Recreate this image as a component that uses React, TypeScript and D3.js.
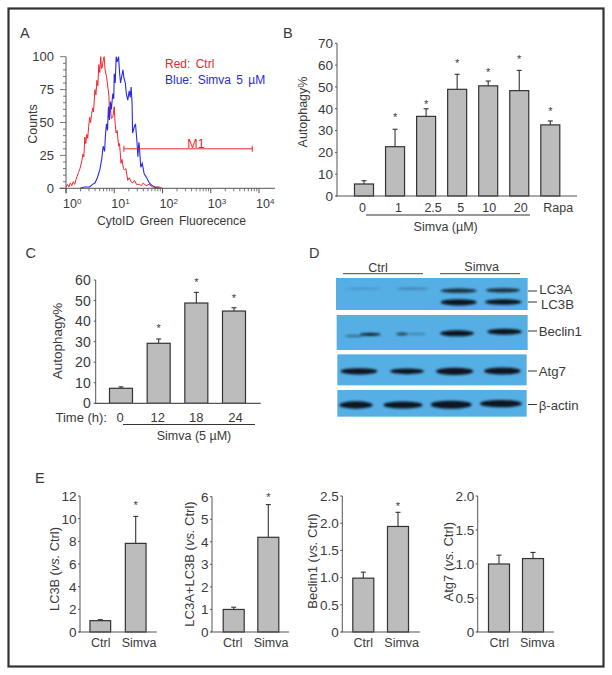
import React from "react";
import * as d3 from "d3";

// ---------- Data ----------
const redLog = [0,0.03,0.06,0.09,0.12,0.15,0.18,0.21,0.23,0.26,0.29,0.33,0.35,0.37,0.39,0.41,0.43,0.45,0.47,0.49,0.51,0.53,0.55,0.57,0.6,0.62,0.64,0.66,0.68,0.7,0.72,0.735,0.75,0.77,0.79,0.81,0.84,0.87,0.89,0.9,0.92,0.94,0.97,1.0,1.02,1.04,1.06,1.09,1.11,1.14,1.16,1.19,1.21,1.24,1.28,1.31,1.35,1.38,1.42,1.46,1.52,1.56,1.6,1.66,1.72,1.79,1.86,1.93,2];
const redCount = [1,3,1,4,2,5,3,7,9,12,15,21,26,24,39,34,41,38,47,54,50,56,61,58,75,71,82,78,94,88,100,91,92,97,100,90,85,76,70,57,61,53,54,62,48,42,44,32,34,19,22,15,14,15,6,8,5,4,6,3,3,2,4,2,3,1,1,1,0];
const blueLog = [0.29,0.38,0.49,0.55,0.6,0.65,0.7,0.74,0.77,0.8,0.82,0.84,0.86,0.88,0.9,0.92,0.94,0.97,0.99,1.0,1.02,1.04,1.06,1.09,1.11,1.13,1.15,1.18,1.2,1.23,1.25,1.28,1.31,1.33,1.35,1.37,1.38,1.41,1.44,1.47,1.49,1.51,1.52,1.55,1.58,1.62,1.67,1.73,1.79,1.86,1.95];
const blueCount = [0,1,1,3,4,8,14,22,32,28,42,49,44,62,52,66,60,72,68,87,80,100,96,100,88,80,84,90,84,80,72,67,74,69,77,64,42,46,49,36,24,35,32,16,19,11,8,4,2,0.5,0];
const xDecades = [0,1,2,3,4];
const countTicks = [0,25,50,75,100];
const gateLog = [1.2,3.86];
const gateCount = 30;

const bCats = ["0","1","2.5","5","10","20","Rapa"];
const bVals = [5.5,22.6,36.5,48.9,50.5,48.3,32.6];
const bErrs = [7,30.6,40,55.8,52.7,57.6,34.4];
const bStars = [null,37,43,61.5,57.7,63.4,39.5];
const bTicks = [0,10,20,30,40,50,60,70];

const cCats = ["0","12","18","24"];
const cVals = [7.3,29.2,48.8,44.9];
const cErrs = [8,31.3,54,46.5];
const cStars = [null,37.3,60,52.2];
const cTicks = [0,10,20,30,40,50,60];

const eCats = ["Ctrl","Simva"];
const e1Vals = [1.0,7.82]; const e1Errs = [1.09,10.2]; const e1Stars = [null,11.35];
const e1Ticks = [0,2,4,6,8,10,12];
const e2Vals = [1.0,4.2]; const e2Errs = [1.1,5.65]; const e2Stars = [null,6.05];
const e2Ticks = [0,1,2,3,4,5,6];
const e3Vals = [0.99,1.94]; const e3Errs = [1.1,2.2]; const e3Stars = [null,2.34];
const e3Ticks = [0,0.5,1,1.5,2,2.5];
const e4Vals = [1.0,1.08]; const e4Errs = [1.13,1.17]; const e4Stars = [null,null];
const e4Ticks = [0,0.5,1,1.5,2];

// Western blot bands: [start, end, y, thickness, darkness]
const blotLC3 = [[135,245,146,5,0.16],[290,385,146,7,0.25],[422,530,152,13,0.85],[558,660,151,13,0.85],[422,530,187,19,1],[555,665,186,17,1]];
const blotBeclin = [[135,190,288,6,0.5],[180,242,283,10,0.9],[288,325,282,9,0.7],[325,378,282,6,0.3],[420,522,280,18,1],[562,665,275,18,1]];
const blotAtg7 = [[122,232,394,19,1],[270,372,394,17,1],[408,520,394,22,1],[552,662,393,21,1]];
const blotActin = [[118,218,495,22,1],[250,368,495,21,1],[392,515,494,24,1],[540,665,491,22,1]];

// ---------- Style ----------
const FONT = "'Liberation Sans', Arial, sans-serif";
const INK = "#3a3a3a";
const AXIS = "#555";
const BAR = "#bcbcbc";
const BLOT = "#55aee4";
const RED = "#f0262e";
const BLUE = "#2a2ae0";

type T = { x: number; y: number; children: any; size?: number; anchor?: string; fill?: string; rot?: boolean; style?: any };
const Txt = ({ x, y, children, size = 13, anchor = "middle", fill = INK, rot = false, style }: T) => (
  <text x={x} y={y} fontSize={size} textAnchor={anchor} fill={fill} fontFamily={FONT}
    transform={rot ? `rotate(-90 ${x} ${y})` : undefined} style={style}>{children}</text>
);

type BarProps = {
  axisX: number; axisEnd: number; top: number; bottom: number; yMax: number;
  first: number; last: number; barW: number;
  cats: string[]; vals: number[]; errs: number[]; stars: (number | null)[]; ticks: number[];
  fmt: (v: number) => string; labelY: number; labelDx: number[]; labelSize: number; tickSize: number; tickGap: number;
};

function BarPanel(p: BarProps) {
  const y = d3.scaleLinear().domain([0, p.yMax]).range([p.bottom, p.top]);
  const x = d3.scalePoint<string>().domain(p.cats).range([p.first, p.last]);
  return (
    <g>
      {p.cats.map((c, i) => {
        const cx = x(c)!;
        return (
          <g key={c}>
            <line x1={cx} x2={cx} y1={y(p.vals[i])} y2={y(p.errs[i])} stroke="#333" strokeWidth={1.1} />
            <line x1={cx - 2.5} x2={cx + 2.5} y1={y(p.errs[i])} y2={y(p.errs[i])} stroke="#333" strokeWidth={1.1} />
            <rect x={cx - p.barW / 2} y={y(p.vals[i])} width={p.barW} height={p.bottom - y(p.vals[i])}
              fill={BAR} stroke="#333" strokeWidth={1.2} />
            {p.stars[i] != null && (
              <Txt x={cx} y={y(p.stars[i] as number) + 5.5} size={11}>*</Txt>
            )}
            <Txt x={cx + p.labelDx[i]} y={p.labelY} size={p.labelSize}>{c}</Txt>
          </g>
        );
      })}
      <line x1={p.axisX} x2={p.axisX} y1={p.top} y2={p.bottom} stroke={AXIS} strokeWidth={1} />
      <line x1={p.axisX - 1} x2={p.axisEnd} y1={p.bottom} y2={p.bottom} stroke={AXIS} strokeWidth={1.2} />
      {p.ticks.map((t) => (
        <g key={t}>
          <line x1={p.axisX - 2} x2={p.axisX} y1={y(t)} y2={y(t)} stroke={AXIS} strokeWidth={1} />
          <Txt x={p.axisX - p.tickGap} y={y(t) + p.tickSize * 0.36} size={p.tickSize} anchor="end">{p.fmt(t)}</Txt>
        </g>
      ))}
    </g>
  );
}

function Histogram() {
  const x = d3.scaleLinear().domain([0, 4]).range([66, 259]);
  const y = d3.scaleLinear().domain([0, 100]).range([188.3, 56.7]);
  const line = d3.line<number>().x((d) => x(d)).curve(d3.curveLinear);
  const redPath = line.y((_, i) => y(redCount[i]))(redLog)!;
  const bluePath = line.y((_, i) => y(blueCount[i]))(blueLog)!;
  const minor = d3.range(0, 4).flatMap((d) => d3.range(2, 10).map((m) => d + Math.log10(m)));
  const yMinor = d3.range(0, 101, 5);
  return (
    <g>
      <path d={redPath} fill="none" stroke={RED} strokeWidth={1} />
      <path d={bluePath} fill="none" stroke={BLUE} strokeWidth={1.1} />
      <line x1={x(0)} x2={x(0)} y1={y(100)} y2={y(0) + 5} stroke={AXIS} />
      <line x1={59.5} x2={275} y1={y(0)} y2={y(0)} stroke={AXIS} />
      {yMinor.map((t) => (
        <line key={t} x1={x(0) - (t % 25 === 0 ? 6 : 3)} x2={x(0)} y1={y(t)} y2={y(t)} stroke={AXIS} strokeWidth={0.8} />
      ))}
      {minor.map((t) => (
        <line key={t} x1={x(t)} x2={x(t)} y1={y(0)} y2={y(0) + 3} stroke={AXIS} strokeWidth={0.8} />
      ))}
      {xDecades.map((d) => (
        <g key={d}>
          <line x1={x(d)} x2={x(d)} y1={y(0)} y2={y(0) + 5} stroke={AXIS} />
          <text x={x(d) - 3} y={208} fontSize={12.5} fill={INK} fontFamily={FONT}>
            10<tspan fontSize={8} dy={-4}>{d}</tspan>
          </text>
        </g>
      ))}
      {countTicks.map((t) => (
        <Txt key={t} x={54} y={y(t) + 4.6} size={13} anchor="end">{t}</Txt>
      ))}
      <line x1={x(gateLog[0])} x2={x(gateLog[1])} y1={y(gateCount)} y2={y(gateCount)} stroke={RED} />
      {gateLog.map((g) => (
        <line key={g} x1={x(g)} x2={x(g)} y1={y(gateCount) - 3} y2={y(gateCount) + 3} stroke={RED} />
      ))}
      <Txt x={196} y={148} size={12.5} fill={RED}>M1</Txt>
      <Txt x={165} y={68} size={12} anchor="start" fill={RED} style={{ wordSpacing: 2 }}>Red: Ctrl</Txt>
      <Txt x={165} y={84} size={12} anchor="start" fill={BLUE} style={{ wordSpacing: 2 }}>Blue: Simva 5 µM</Txt>
      <Txt x={171.5} y={225} size={12.2} style={{ wordSpacing: 2 }}>CytoID Green Fluorecence</Txt>
      <Txt x={36.5} y={124} size={12.5} rot>Counts</Txt>
    </g>
  );
}

function BlotPanel({ x0, x1, y0, y1, bands }: { x0: number; x1: number; y0: number; y1: number; bands: number[][] }) {
  const sx = d3.scaleLinear().domain([0, 300]).range([300, 400]);
  const sy = d3.scaleLinear().domain([0, 300]).range([240, 340]);
  return (
    <g>
      <rect x={sx(x0)} y={sy(y0)} width={sx(x1) - sx(x0)} height={sy(y1) - sy(y0)} fill={BLOT} />
      <g filter="url(#blur)">
        {bands.map((b, i) => (
          <ellipse key={i} cx={(sx(b[0]) + sx(b[1])) / 2} cy={sy(b[2])} rx={(sx(b[1]) - sx(b[0])) / 2}
            ry={(sy(b[2] + b[3]) - sy(b[2])) / 2} fill="#101820" opacity={b[4]} />
        ))}
      </g>
    </g>
  );
}

const oneDec = (v: number) => (v === 0 ? "0" : v.toFixed(1));
const plain = (v: number) => String(v);

export default function App() {
  return (
    <svg width={612} height={675} style={{ position: "absolute", left: 0, top: 0, background: "#fff" }}>
      <defs>
        <filter id="blur" x="-20%" y="-60%" width="140%" height="220%"><feGaussianBlur stdDeviation="0.9" /></filter>
      </defs>
      <rect x={8.5} y={8.5} width={595} height={658} fill="none" stroke="#333" strokeWidth={2.2} />

      <Txt x={20} y={38} size={14.5} anchor="start">A</Txt>
      <Txt x={283} y={38} size={14.5} anchor="start">B</Txt>
      <Txt x={25.5} y={258} size={14.5} anchor="start">C</Txt>
      <Txt x={309} y={258} size={14.5} anchor="start">D</Txt>
      <Txt x={35} y={483} size={14.5} anchor="start">E</Txt>

      <Histogram />

      {/* B */}
      <BarPanel axisX={337} axisEnd={577} top={43.3} bottom={196} yMax={70} first={364} last={550.3} barW={19}
        cats={bCats} vals={bVals} errs={bErrs} stars={bStars} ticks={bTicks} fmt={plain}
        labelY={212} labelDx={[-1.5,3.5,7,3.5,1,1.5,8]} labelSize={12.5} tickSize={13.5} tickGap={4} />
      <line x1={366} x2={530} y1={215} y2={215} stroke="#333" />
      <Txt x={445.7} y={231} size={12.5}>Simva (µM)</Txt>
      <Txt x={307} y={112} size={12.5} rot>Autophagy%</Txt>

      {/* C */}
      <BarPanel axisX={95.7} axisEnd={260.7} top={280} bottom={403.3} yMax={60} first={121} last={234} barW={23}
        cats={cCats} vals={cVals} errs={cErrs} stars={cStars} ticks={cTicks} fmt={plain}
        labelY={422} labelDx={[-1,-1,0,1.5]} labelSize={13} tickSize={14} tickGap={5} />
      <Txt x={107} y={422} size={13} anchor="end">Time (h):</Txt>
      <line x1={123} x2={255} y1={424.5} y2={424.5} stroke="#333" />
      <Txt x={194} y={439.5} size={12.5}>Simva (5 µM)</Txt>
      <Txt x={62} y={341} size={13.5} rot>Autophagy%</Txt>

      {/* D */}
      <BlotPanel x0={108} x1={683} y0={114} y1={210} bands={blotLC3} />
      <BlotPanel x0={110} x1={683} y0={225} y1={330} bands={blotBeclin} />
      <BlotPanel x0={112} x1={680} y0={343} y1={436} bands={blotAtg7} />
      <BlotPanel x0={112} x1={680} y0={450} y1={530} bands={blotActin} />
      <line x1={343} x2={423} y1={273.7} y2={273.7} stroke="#444" />
      <line x1={440} x2={520} y1={273.7} y2={273.7} stroke="#444" />
      <Txt x={378} y={272} size={12.5}>Ctrl</Txt>
      <Txt x={481.7} y={271} size={12.5}>Simva</Txt>
      {[291, 302, 331, 371, 404.5].map((yy) => (
        <line key={yy} x1={528} x2={537} y1={yy} y2={yy} stroke="#333" />
      ))}
      <Txt x={539.3} y={293.5} size={13.2} anchor="start">LC3A</Txt>
      <Txt x={541} y={309} size={13.2} anchor="start">LC3B</Txt>
      <Txt x={538.7} y={336} size={13.2} anchor="start">Beclin1</Txt>
      <Txt x={538.7} y={376} size={13.2} anchor="start">Atg7</Txt>
      <Txt x={538.7} y={409.5} size={13.2} anchor="start">β-actin</Txt>

      {/* E */}
      <BarPanel axisX={80} axisEnd={156.7} top={496} bottom={632} yMax={12} first={100.3} last={135.7} barW={20.7}
        cats={eCats} vals={e1Vals} errs={e1Errs} stars={e1Stars} ticks={e1Ticks} fmt={plain}
        labelY={646.7} labelDx={[0.4,3.3]} labelSize={12.5} tickSize={13.5} tickGap={3.5} />
      <Txt x={58.5} y={569} size={12.8} rot>LC3B (<tspan fontStyle="italic">vs.</tspan> Ctrl)</Txt>

      <BarPanel axisX={212} axisEnd={289} top={496.7} bottom={632} yMax={6} first={233.7} last={268.3} barW={21}
        cats={eCats} vals={e2Vals} errs={e2Errs} stars={e2Stars} ticks={e2Ticks} fmt={plain}
        labelY={646.7} labelDx={[-1,2.7]} labelSize={12.5} tickSize={13.5} tickGap={3.5} />
      <Txt x={193.8} y={564} size={13} rot>LC3A+LC3B (<tspan fontStyle="italic">vs.</tspan> Ctrl)</Txt>

      <BarPanel axisX={342.3} axisEnd={420} top={496} bottom={632} yMax={2.5} first={363.3} last={398} barW={21}
        cats={eCats} vals={e3Vals} errs={e3Errs} stars={e3Stars} ticks={e3Ticks} fmt={oneDec}
        labelY={646.7} labelDx={[0,3.7]} labelSize={12.5} tickSize={13.5} tickGap={3.5} />
      <Txt x={317.2} y={561} size={13} rot>Beclin1 (<tspan fontStyle="italic">vs.</tspan> Ctrl)</Txt>

      <BarPanel axisX={477.7} axisEnd={554} top={496} bottom={632} yMax={2} first={499} last={533} barW={21}
        cats={eCats} vals={e4Vals} errs={e4Errs} stars={e4Stars} ticks={e4Ticks} fmt={oneDec}
        labelY={646.7} labelDx={[0.3,4.3]} labelSize={12.5} tickSize={13.5} tickGap={3.5} />
      <Txt x={452.8} y={561.7} size={13} rot>Atg7 (<tspan fontStyle="italic">vs.</tspan> Ctrl)</Txt>
    </svg>
  );
}
